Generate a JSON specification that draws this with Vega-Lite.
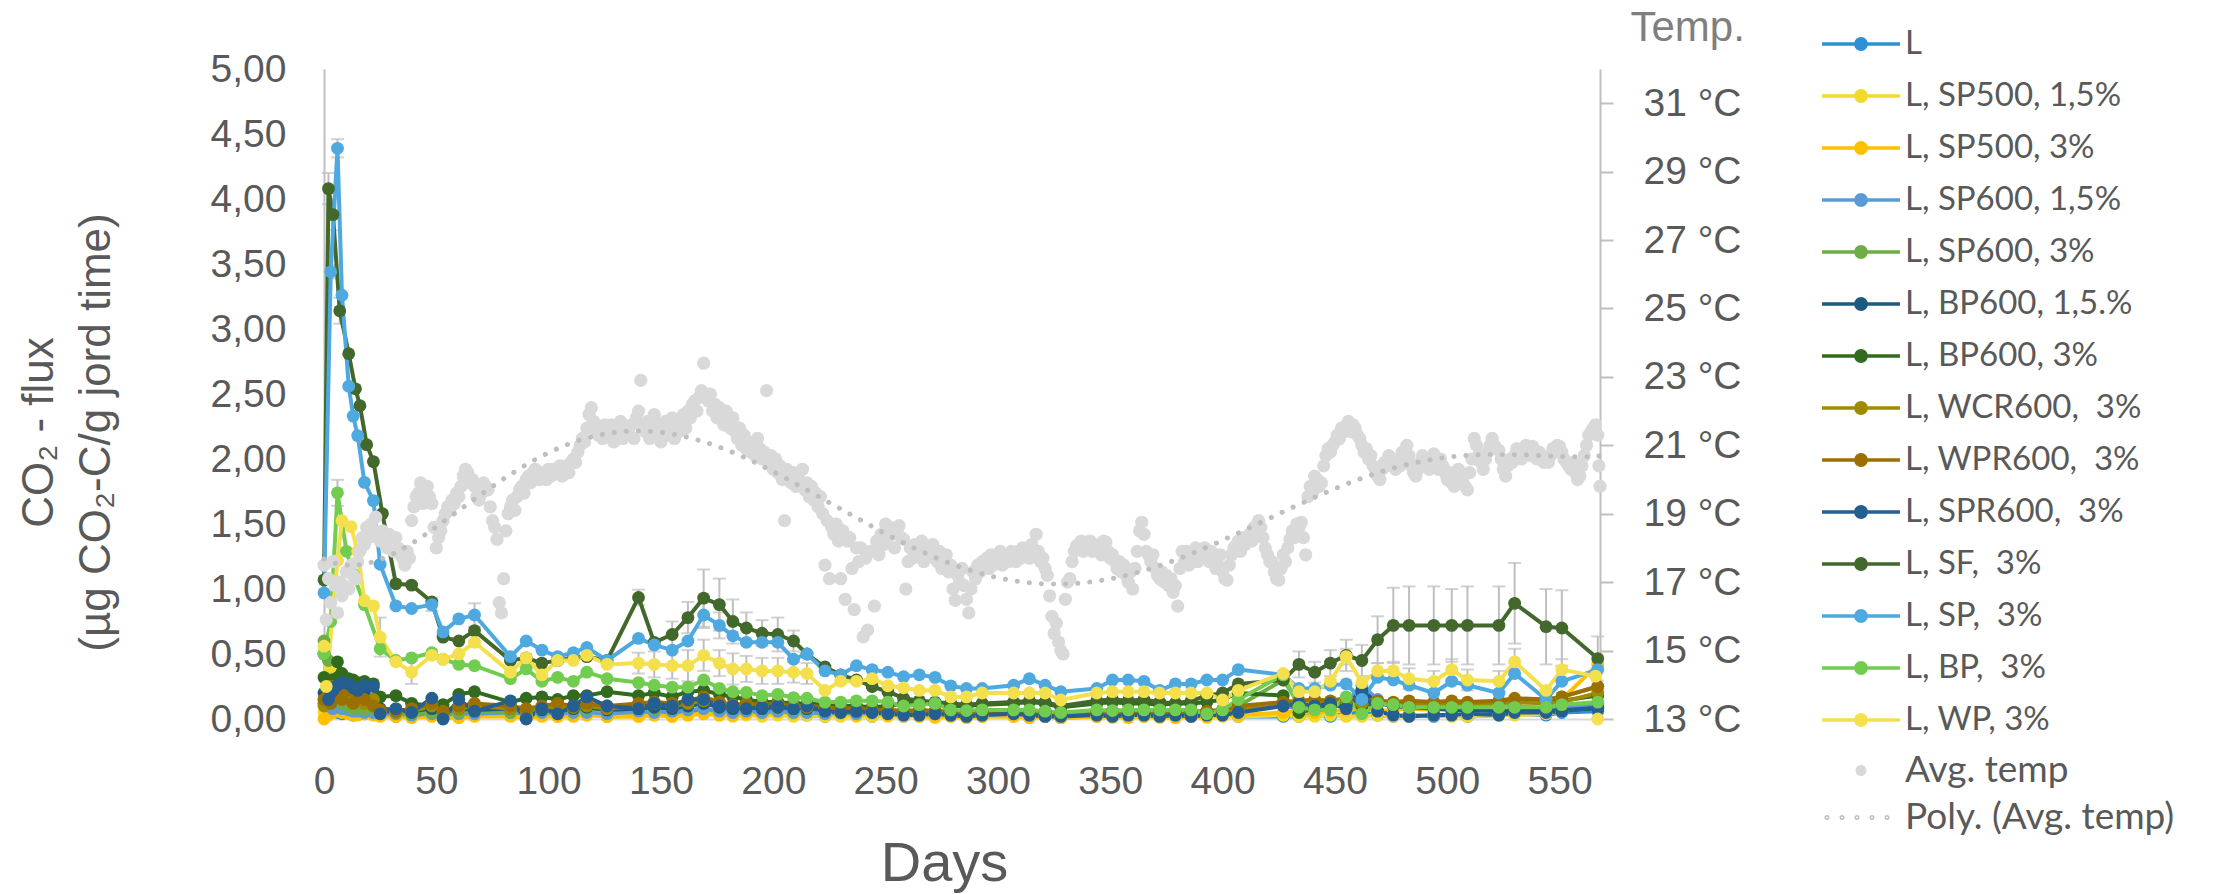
{
"$schema":"https://vega.github.io/schema/vega-lite/v6.json",
"width":1276,"height":650,"autosize":"none",
"padding":{"left":324,"top":69,"right":618,"bottom":175},
"background":"white",
"datasets":{
"names":[{"k":"L","name":"L"},{"k":"Y1","name":"L, SP500, 1,5%"},{"k":"Y3","name":"L, SP500, 3%"},{"k":"B15","name":"L, SP600, 1,5%"},{"k":"G3","name":"L, SP600, 3%"},{"k":"DB15","name":"L, BP600, 1,5.%"},{"k":"DG3","name":"L, BP600, 3%"},{"k":"OL","name":"L, WCR600, \u00a03%"},{"k":"BR","name":"L, WPR600, \u00a03%"},{"k":"DB","name":"L, SPR600, \u00a03%"},{"k":"SF","name":"L, SF, \u00a03%"},{"k":"SP","name":"L, SP, \u00a03%"},{"k":"BP","name":"L, BP, \u00a03%"},{"k":"WP","name":"L, WP, 3%"}],
"flux":[
{"k":"L","d":0,"v":0.12},{"k":"L","d":2,"v":0.05},{"k":"L","d":3,"v":0.2},{"k":"L","d":4,"v":0.08},{"k":"L","d":6,"v":0.05},{"k":"L","d":8,"v":0.04},{"k":"L","d":11,"v":0.06},{"k":"L","d":13,"v":0.03},{"k":"L","d":15,"v":0.05},{"k":"L","d":18,"v":0.04},{"k":"L","d":22,"v":0.06},{"k":"L","d":25,"v":0.03},{"k":"L","d":32,"v":0.02},{"k":"L","d":39,"v":0.03},{"k":"L","d":48,"v":0.04},{"k":"L","d":53,"v":0.02},{"k":"L","d":60,"v":0.03},{"k":"L","d":67,"v":0.04},{"k":"L","d":83,"v":0.05},{"k":"L","d":90,"v":0.04},{"k":"L","d":97,"v":0.03},{"k":"L","d":104,"v":0.04},{"k":"L","d":111,"v":0.03},{"k":"L","d":117,"v":0.04},{"k":"L","d":126,"v":0.02},{"k":"L","d":140,"v":0.03},{"k":"L","d":147,"v":0.04},{"k":"L","d":155,"v":0.03},{"k":"L","d":162,"v":0.05},{"k":"L","d":169,"v":0.06},{"k":"L","d":176,"v":0.04},{"k":"L","d":182,"v":0.03},{"k":"L","d":188,"v":0.04},{"k":"L","d":195,"v":0.03},{"k":"L","d":202,"v":0.04},{"k":"L","d":209,"v":0.03},{"k":"L","d":215,"v":0.03},{"k":"L","d":223,"v":0.02},{"k":"L","d":230,"v":0.03},{"k":"L","d":237,"v":0.03},{"k":"L","d":244,"v":0.02},{"k":"L","d":251,"v":0.03},{"k":"L","d":258,"v":0.02},{"k":"L","d":265,"v":0.03},{"k":"L","d":272,"v":0.02},{"k":"L","d":279,"v":0.03},{"k":"L","d":286,"v":0.02},{"k":"L","d":293,"v":0.02},{"k":"L","d":307,"v":0.03},{"k":"L","d":314,"v":0.02},{"k":"L","d":321,"v":0.02},{"k":"L","d":328,"v":0.01},{"k":"L","d":344,"v":0.02},{"k":"L","d":351,"v":0.03},{"k":"L","d":358,"v":0.02},{"k":"L","d":365,"v":0.02},{"k":"L","d":372,"v":0.02},{"k":"L","d":379,"v":0.03},{"k":"L","d":386,"v":0.02},{"k":"L","d":393,"v":0.02},{"k":"L","d":400,"v":0.03},{"k":"L","d":407,"v":0.02},{"k":"L","d":427,"v":0.02},{"k":"L","d":434,"v":0.02},{"k":"L","d":441,"v":0.03},{"k":"L","d":448,"v":0.02},{"k":"L","d":455,"v":0.04},{"k":"L","d":462,"v":0.05},{"k":"L","d":469,"v":0.03},{"k":"L","d":476,"v":0.02},{"k":"L","d":483,"v":0.03},{"k":"L","d":494,"v":0.02},{"k":"L","d":502,"v":0.03},{"k":"L","d":509,"v":0.02},{"k":"L","d":523,"v":0.03},{"k":"L","d":530,"v":0.04},{"k":"L","d":544,"v":0.03},{"k":"L","d":551,"v":0.05},{"k":"L","d":567,"v":0.06},
{"k":"Y1","d":0,"v":0.05},{"k":"Y1","d":2,"v":0.1},{"k":"Y1","d":3,"v":0.4},{"k":"Y1","d":4,"v":0.15},{"k":"Y1","d":6,"v":0.12},{"k":"Y1","d":8,"v":0.08},{"k":"Y1","d":11,"v":0.06},{"k":"Y1","d":13,"v":0.05},{"k":"Y1","d":15,"v":0.04},{"k":"Y1","d":18,"v":0.05},{"k":"Y1","d":22,"v":0.04},{"k":"Y1","d":25,"v":0.03},{"k":"Y1","d":32,"v":0.02},{"k":"Y1","d":39,"v":0.02},{"k":"Y1","d":48,"v":0.03},{"k":"Y1","d":53,"v":0.02},{"k":"Y1","d":60,"v":0.02},{"k":"Y1","d":67,"v":0.03},{"k":"Y1","d":83,"v":0.03},{"k":"Y1","d":90,"v":0.02},{"k":"Y1","d":97,"v":0.03},{"k":"Y1","d":104,"v":0.02},{"k":"Y1","d":111,"v":0.03},{"k":"Y1","d":117,"v":0.03},{"k":"Y1","d":126,"v":0.02},{"k":"Y1","d":140,"v":0.02},{"k":"Y1","d":147,"v":0.03},{"k":"Y1","d":155,"v":0.02},{"k":"Y1","d":162,"v":0.03},{"k":"Y1","d":169,"v":0.04},{"k":"Y1","d":176,"v":0.03},{"k":"Y1","d":182,"v":0.02},{"k":"Y1","d":188,"v":0.03},{"k":"Y1","d":195,"v":0.02},{"k":"Y1","d":202,"v":0.03},{"k":"Y1","d":209,"v":0.02},{"k":"Y1","d":215,"v":0.03},{"k":"Y1","d":223,"v":0.02},{"k":"Y1","d":230,"v":0.02},{"k":"Y1","d":237,"v":0.02},{"k":"Y1","d":244,"v":0.02},{"k":"Y1","d":251,"v":0.02},{"k":"Y1","d":258,"v":0.02},{"k":"Y1","d":265,"v":0.02},{"k":"Y1","d":272,"v":0.01},{"k":"Y1","d":279,"v":0.02},{"k":"Y1","d":286,"v":0.02},{"k":"Y1","d":293,"v":0.02},{"k":"Y1","d":307,"v":0.02},{"k":"Y1","d":314,"v":0.01},{"k":"Y1","d":321,"v":0.02},{"k":"Y1","d":328,"v":0.01},{"k":"Y1","d":344,"v":0.02},{"k":"Y1","d":351,"v":0.01},{"k":"Y1","d":358,"v":0.02},{"k":"Y1","d":365,"v":0.02},{"k":"Y1","d":372,"v":0.01},{"k":"Y1","d":379,"v":0.02},{"k":"Y1","d":386,"v":0.02},{"k":"Y1","d":393,"v":0.01},{"k":"Y1","d":400,"v":0.02},{"k":"Y1","d":407,"v":0.02},{"k":"Y1","d":427,"v":0.03},{"k":"Y1","d":434,"v":0.02},{"k":"Y1","d":441,"v":0.02},{"k":"Y1","d":448,"v":0.03},{"k":"Y1","d":455,"v":0.02},{"k":"Y1","d":462,"v":0.02},{"k":"Y1","d":469,"v":0.03},{"k":"Y1","d":476,"v":0.02},{"k":"Y1","d":483,"v":0.02},{"k":"Y1","d":494,"v":0.03},{"k":"Y1","d":502,"v":0.02},{"k":"Y1","d":509,"v":0.02},{"k":"Y1","d":523,"v":0.03},{"k":"Y1","d":530,"v":0.03},{"k":"Y1","d":544,"v":0.04},{"k":"Y1","d":551,"v":0.06},{"k":"Y1","d":567,"v":0.1},
{"k":"Y3","d":0,"v":0.0},{"k":"Y3","d":2,"v":0.03},{"k":"Y3","d":3,"v":0.08},{"k":"Y3","d":4,"v":0.05},{"k":"Y3","d":6,"v":0.06},{"k":"Y3","d":8,"v":0.05},{"k":"Y3","d":11,"v":0.04},{"k":"Y3","d":13,"v":0.03},{"k":"Y3","d":15,"v":0.03},{"k":"Y3","d":18,"v":0.04},{"k":"Y3","d":22,"v":0.03},{"k":"Y3","d":25,"v":0.02},{"k":"Y3","d":32,"v":0.02},{"k":"Y3","d":39,"v":0.01},{"k":"Y3","d":48,"v":0.02},{"k":"Y3","d":53,"v":0.01},{"k":"Y3","d":60,"v":0.01},{"k":"Y3","d":67,"v":0.02},{"k":"Y3","d":83,"v":0.02},{"k":"Y3","d":90,"v":0.01},{"k":"Y3","d":97,"v":0.02},{"k":"Y3","d":104,"v":0.02},{"k":"Y3","d":111,"v":0.02},{"k":"Y3","d":117,"v":0.03},{"k":"Y3","d":126,"v":0.02},{"k":"Y3","d":140,"v":0.02},{"k":"Y3","d":147,"v":0.03},{"k":"Y3","d":155,"v":0.02},{"k":"Y3","d":162,"v":0.03},{"k":"Y3","d":169,"v":0.04},{"k":"Y3","d":176,"v":0.03},{"k":"Y3","d":182,"v":0.03},{"k":"Y3","d":188,"v":0.04},{"k":"Y3","d":195,"v":0.04},{"k":"Y3","d":202,"v":0.05},{"k":"Y3","d":209,"v":0.04},{"k":"Y3","d":215,"v":0.05},{"k":"Y3","d":223,"v":0.04},{"k":"Y3","d":230,"v":0.04},{"k":"Y3","d":237,"v":0.03},{"k":"Y3","d":244,"v":0.04},{"k":"Y3","d":251,"v":0.03},{"k":"Y3","d":258,"v":0.03},{"k":"Y3","d":265,"v":0.02},{"k":"Y3","d":272,"v":0.02},{"k":"Y3","d":279,"v":0.02},{"k":"Y3","d":286,"v":0.01},{"k":"Y3","d":293,"v":0.02},{"k":"Y3","d":307,"v":0.02},{"k":"Y3","d":314,"v":0.01},{"k":"Y3","d":321,"v":0.02},{"k":"Y3","d":328,"v":0.01},{"k":"Y3","d":344,"v":0.02},{"k":"Y3","d":351,"v":0.02},{"k":"Y3","d":358,"v":0.01},{"k":"Y3","d":365,"v":0.02},{"k":"Y3","d":372,"v":0.02},{"k":"Y3","d":379,"v":0.01},{"k":"Y3","d":386,"v":0.02},{"k":"Y3","d":393,"v":0.02},{"k":"Y3","d":400,"v":0.03},{"k":"Y3","d":407,"v":0.03},{"k":"Y3","d":427,"v":0.05},{"k":"Y3","d":434,"v":0.06},{"k":"Y3","d":441,"v":0.05},{"k":"Y3","d":448,"v":0.06},{"k":"Y3","d":455,"v":0.07},{"k":"Y3","d":462,"v":0.08},{"k":"Y3","d":469,"v":0.06},{"k":"Y3","d":476,"v":0.07},{"k":"Y3","d":483,"v":0.08},{"k":"Y3","d":494,"v":0.07},{"k":"Y3","d":502,"v":0.08},{"k":"Y3","d":509,"v":0.09},{"k":"Y3","d":523,"v":0.1},{"k":"Y3","d":530,"v":0.12},{"k":"Y3","d":544,"v":0.14},{"k":"Y3","d":551,"v":0.15},{"k":"Y3","d":567,"v":0.42},
{"k":"B15","d":0,"v":0.15},{"k":"B15","d":2,"v":0.1},{"k":"B15","d":3,"v":0.12},{"k":"B15","d":4,"v":0.08},{"k":"B15","d":6,"v":0.1},{"k":"B15","d":8,"v":0.08},{"k":"B15","d":11,"v":0.07},{"k":"B15","d":13,"v":0.06},{"k":"B15","d":15,"v":0.06},{"k":"B15","d":18,"v":0.05},{"k":"B15","d":22,"v":0.05},{"k":"B15","d":25,"v":0.04},{"k":"B15","d":32,"v":0.04},{"k":"B15","d":39,"v":0.03},{"k":"B15","d":48,"v":0.04},{"k":"B15","d":53,"v":0.03},{"k":"B15","d":60,"v":0.04},{"k":"B15","d":67,"v":0.04},{"k":"B15","d":83,"v":0.05},{"k":"B15","d":90,"v":0.04},{"k":"B15","d":97,"v":0.05},{"k":"B15","d":104,"v":0.04},{"k":"B15","d":111,"v":0.05},{"k":"B15","d":117,"v":0.05},{"k":"B15","d":126,"v":0.04},{"k":"B15","d":140,"v":0.06},{"k":"B15","d":147,"v":0.05},{"k":"B15","d":155,"v":0.06},{"k":"B15","d":162,"v":0.07},{"k":"B15","d":169,"v":0.08},{"k":"B15","d":176,"v":0.06},{"k":"B15","d":182,"v":0.05},{"k":"B15","d":188,"v":0.06},{"k":"B15","d":195,"v":0.05},{"k":"B15","d":202,"v":0.06},{"k":"B15","d":209,"v":0.05},{"k":"B15","d":215,"v":0.05},{"k":"B15","d":223,"v":0.04},{"k":"B15","d":230,"v":0.05},{"k":"B15","d":237,"v":0.04},{"k":"B15","d":244,"v":0.05},{"k":"B15","d":251,"v":0.04},{"k":"B15","d":258,"v":0.05},{"k":"B15","d":265,"v":0.04},{"k":"B15","d":272,"v":0.04},{"k":"B15","d":279,"v":0.03},{"k":"B15","d":286,"v":0.04},{"k":"B15","d":293,"v":0.03},{"k":"B15","d":307,"v":0.04},{"k":"B15","d":314,"v":0.03},{"k":"B15","d":321,"v":0.04},{"k":"B15","d":328,"v":0.03},{"k":"B15","d":344,"v":0.04},{"k":"B15","d":351,"v":0.04},{"k":"B15","d":358,"v":0.03},{"k":"B15","d":365,"v":0.04},{"k":"B15","d":372,"v":0.04},{"k":"B15","d":379,"v":0.03},{"k":"B15","d":386,"v":0.04},{"k":"B15","d":393,"v":0.04},{"k":"B15","d":400,"v":0.05},{"k":"B15","d":407,"v":0.06},{"k":"B15","d":427,"v":0.1},{"k":"B15","d":434,"v":0.08},{"k":"B15","d":441,"v":0.09},{"k":"B15","d":448,"v":0.1},{"k":"B15","d":455,"v":0.12},{"k":"B15","d":462,"v":0.26},{"k":"B15","d":469,"v":0.15},{"k":"B15","d":476,"v":0.12},{"k":"B15","d":483,"v":0.1},{"k":"B15","d":494,"v":0.08},{"k":"B15","d":502,"v":0.09},{"k":"B15","d":509,"v":0.08},{"k":"B15","d":523,"v":0.08},{"k":"B15","d":530,"v":0.1},{"k":"B15","d":544,"v":0.08},{"k":"B15","d":551,"v":0.09},{"k":"B15","d":567,"v":0.12},
{"k":"G3","d":0,"v":0.6},{"k":"G3","d":2,"v":0.45},{"k":"G3","d":3,"v":0.3},{"k":"G3","d":4,"v":0.2},{"k":"G3","d":6,"v":0.15},{"k":"G3","d":8,"v":0.12},{"k":"G3","d":11,"v":0.1},{"k":"G3","d":13,"v":0.08},{"k":"G3","d":15,"v":0.09},{"k":"G3","d":18,"v":0.07},{"k":"G3","d":22,"v":0.08},{"k":"G3","d":25,"v":0.06},{"k":"G3","d":32,"v":0.05},{"k":"G3","d":39,"v":0.04},{"k":"G3","d":48,"v":0.05},{"k":"G3","d":53,"v":0.04},{"k":"G3","d":60,"v":0.05},{"k":"G3","d":67,"v":0.06},{"k":"G3","d":83,"v":0.05},{"k":"G3","d":90,"v":0.06},{"k":"G3","d":97,"v":0.07},{"k":"G3","d":104,"v":0.06},{"k":"G3","d":111,"v":0.07},{"k":"G3","d":117,"v":0.08},{"k":"G3","d":126,"v":0.07},{"k":"G3","d":140,"v":0.09},{"k":"G3","d":147,"v":0.08},{"k":"G3","d":155,"v":0.09},{"k":"G3","d":162,"v":0.1},{"k":"G3","d":169,"v":0.12},{"k":"G3","d":176,"v":0.1},{"k":"G3","d":182,"v":0.09},{"k":"G3","d":188,"v":0.1},{"k":"G3","d":195,"v":0.09},{"k":"G3","d":202,"v":0.1},{"k":"G3","d":209,"v":0.08},{"k":"G3","d":215,"v":0.09},{"k":"G3","d":223,"v":0.08},{"k":"G3","d":230,"v":0.07},{"k":"G3","d":237,"v":0.08},{"k":"G3","d":244,"v":0.07},{"k":"G3","d":251,"v":0.07},{"k":"G3","d":258,"v":0.06},{"k":"G3","d":265,"v":0.07},{"k":"G3","d":272,"v":0.06},{"k":"G3","d":279,"v":0.06},{"k":"G3","d":286,"v":0.05},{"k":"G3","d":293,"v":0.06},{"k":"G3","d":307,"v":0.05},{"k":"G3","d":314,"v":0.06},{"k":"G3","d":321,"v":0.05},{"k":"G3","d":328,"v":0.04},{"k":"G3","d":344,"v":0.05},{"k":"G3","d":351,"v":0.06},{"k":"G3","d":358,"v":0.05},{"k":"G3","d":365,"v":0.06},{"k":"G3","d":372,"v":0.05},{"k":"G3","d":379,"v":0.06},{"k":"G3","d":386,"v":0.05},{"k":"G3","d":393,"v":0.06},{"k":"G3","d":400,"v":0.07},{"k":"G3","d":407,"v":0.1},{"k":"G3","d":427,"v":0.3},{"k":"G3","d":434,"v":0.12},{"k":"G3","d":441,"v":0.1},{"k":"G3","d":448,"v":0.11},{"k":"G3","d":455,"v":0.13},{"k":"G3","d":462,"v":0.1},{"k":"G3","d":469,"v":0.12},{"k":"G3","d":476,"v":0.11},{"k":"G3","d":483,"v":0.1},{"k":"G3","d":494,"v":0.11},{"k":"G3","d":502,"v":0.12},{"k":"G3","d":509,"v":0.11},{"k":"G3","d":523,"v":0.12},{"k":"G3","d":530,"v":0.14},{"k":"G3","d":544,"v":0.15},{"k":"G3","d":551,"v":0.17},{"k":"G3","d":567,"v":0.25},
{"k":"DB15","d":0,"v":0.2},{"k":"DB15","d":2,"v":0.15},{"k":"DB15","d":3,"v":0.25},{"k":"DB15","d":4,"v":0.2},{"k":"DB15","d":6,"v":0.22},{"k":"DB15","d":8,"v":0.2},{"k":"DB15","d":11,"v":0.18},{"k":"DB15","d":13,"v":0.2},{"k":"DB15","d":15,"v":0.17},{"k":"DB15","d":18,"v":0.19},{"k":"DB15","d":22,"v":0.15},{"k":"DB15","d":25,"v":0.08},{"k":"DB15","d":32,"v":0.07},{"k":"DB15","d":39,"v":0.06},{"k":"DB15","d":48,"v":0.08},{"k":"DB15","d":53,"v":0.05},{"k":"DB15","d":60,"v":0.08},{"k":"DB15","d":67,"v":0.07},{"k":"DB15","d":83,"v":0.08},{"k":"DB15","d":90,"v":0.06},{"k":"DB15","d":97,"v":0.07},{"k":"DB15","d":104,"v":0.06},{"k":"DB15","d":111,"v":0.08},{"k":"DB15","d":117,"v":0.09},{"k":"DB15","d":126,"v":0.07},{"k":"DB15","d":140,"v":0.08},{"k":"DB15","d":147,"v":0.09},{"k":"DB15","d":155,"v":0.08},{"k":"DB15","d":162,"v":0.1},{"k":"DB15","d":169,"v":0.12},{"k":"DB15","d":176,"v":0.09},{"k":"DB15","d":182,"v":0.08},{"k":"DB15","d":188,"v":0.09},{"k":"DB15","d":195,"v":0.08},{"k":"DB15","d":202,"v":0.09},{"k":"DB15","d":209,"v":0.08},{"k":"DB15","d":215,"v":0.08},{"k":"DB15","d":223,"v":0.07},{"k":"DB15","d":230,"v":0.07},{"k":"DB15","d":237,"v":0.06},{"k":"DB15","d":244,"v":0.07},{"k":"DB15","d":251,"v":0.06},{"k":"DB15","d":258,"v":0.06},{"k":"DB15","d":265,"v":0.05},{"k":"DB15","d":272,"v":0.06},{"k":"DB15","d":279,"v":0.05},{"k":"DB15","d":286,"v":0.05},{"k":"DB15","d":293,"v":0.06},{"k":"DB15","d":307,"v":0.05},{"k":"DB15","d":314,"v":0.05},{"k":"DB15","d":321,"v":0.06},{"k":"DB15","d":328,"v":0.04},{"k":"DB15","d":344,"v":0.05},{"k":"DB15","d":351,"v":0.06},{"k":"DB15","d":358,"v":0.05},{"k":"DB15","d":365,"v":0.05},{"k":"DB15","d":372,"v":0.06},{"k":"DB15","d":379,"v":0.05},{"k":"DB15","d":386,"v":0.05},{"k":"DB15","d":393,"v":0.06},{"k":"DB15","d":400,"v":0.06},{"k":"DB15","d":407,"v":0.08},{"k":"DB15","d":427,"v":0.12},{"k":"DB15","d":434,"v":0.1},{"k":"DB15","d":441,"v":0.11},{"k":"DB15","d":448,"v":0.12},{"k":"DB15","d":455,"v":0.1},{"k":"DB15","d":462,"v":0.22},{"k":"DB15","d":469,"v":0.12},{"k":"DB15","d":476,"v":0.1},{"k":"DB15","d":483,"v":0.09},{"k":"DB15","d":494,"v":0.08},{"k":"DB15","d":502,"v":0.07},{"k":"DB15","d":509,"v":0.07},{"k":"DB15","d":523,"v":0.06},{"k":"DB15","d":530,"v":0.07},{"k":"DB15","d":544,"v":0.06},{"k":"DB15","d":551,"v":0.07},{"k":"DB15","d":567,"v":0.08},
{"k":"DG3","d":0,"v":0.32},{"k":"DG3","d":2,"v":0.28},{"k":"DG3","d":3,"v":0.2},{"k":"DG3","d":4,"v":0.3},{"k":"DG3","d":6,"v":0.44},{"k":"DG3","d":8,"v":0.35},{"k":"DG3","d":11,"v":0.31},{"k":"DG3","d":13,"v":0.3},{"k":"DG3","d":15,"v":0.28},{"k":"DG3","d":18,"v":0.29},{"k":"DG3","d":22,"v":0.27},{"k":"DG3","d":25,"v":0.17},{"k":"DG3","d":32,"v":0.18},{"k":"DG3","d":39,"v":0.12},{"k":"DG3","d":48,"v":0.1},{"k":"DG3","d":53,"v":0.11},{"k":"DG3","d":60,"v":0.19},{"k":"DG3","d":67,"v":0.21},{"k":"DG3","d":83,"v":0.13},{"k":"DG3","d":90,"v":0.16},{"k":"DG3","d":97,"v":0.17},{"k":"DG3","d":104,"v":0.15},{"k":"DG3","d":111,"v":0.18},{"k":"DG3","d":117,"v":0.18},{"k":"DG3","d":126,"v":0.21},{"k":"DG3","d":140,"v":0.18},{"k":"DG3","d":147,"v":0.2},{"k":"DG3","d":155,"v":0.17},{"k":"DG3","d":162,"v":0.21},{"k":"DG3","d":169,"v":0.22},{"k":"DG3","d":176,"v":0.19},{"k":"DG3","d":182,"v":0.17},{"k":"DG3","d":188,"v":0.15},{"k":"DG3","d":195,"v":0.13},{"k":"DG3","d":202,"v":0.13},{"k":"DG3","d":209,"v":0.12},{"k":"DG3","d":215,"v":0.12},{"k":"DG3","d":223,"v":0.11},{"k":"DG3","d":230,"v":0.1},{"k":"DG3","d":237,"v":0.1},{"k":"DG3","d":244,"v":0.09},{"k":"DG3","d":251,"v":0.1},{"k":"DG3","d":258,"v":0.12},{"k":"DG3","d":265,"v":0.13},{"k":"DG3","d":272,"v":0.12},{"k":"DG3","d":279,"v":0.1},{"k":"DG3","d":286,"v":0.1},{"k":"DG3","d":293,"v":0.11},{"k":"DG3","d":307,"v":0.12},{"k":"DG3","d":314,"v":0.13},{"k":"DG3","d":321,"v":0.12},{"k":"DG3","d":328,"v":0.09},{"k":"DG3","d":344,"v":0.12},{"k":"DG3","d":351,"v":0.13},{"k":"DG3","d":358,"v":0.12},{"k":"DG3","d":365,"v":0.12},{"k":"DG3","d":372,"v":0.11},{"k":"DG3","d":379,"v":0.12},{"k":"DG3","d":386,"v":0.12},{"k":"DG3","d":393,"v":0.13},{"k":"DG3","d":400,"v":0.15},{"k":"DG3","d":407,"v":0.2},{"k":"DG3","d":427,"v":0.18},{"k":"DG3","d":434,"v":0.05},{"k":"DG3","d":441,"v":0.08},{"k":"DG3","d":448,"v":0.1},{"k":"DG3","d":455,"v":0.12},{"k":"DG3","d":462,"v":0.1},{"k":"DG3","d":469,"v":0.13},{"k":"DG3","d":476,"v":0.12},{"k":"DG3","d":483,"v":0.12},{"k":"DG3","d":494,"v":0.11},{"k":"DG3","d":502,"v":0.12},{"k":"DG3","d":509,"v":0.12},{"k":"DG3","d":523,"v":0.13},{"k":"DG3","d":530,"v":0.14},{"k":"DG3","d":544,"v":0.15},{"k":"DG3","d":551,"v":0.14},{"k":"DG3","d":567,"v":0.18},
{"k":"OL","d":0,"v":0.1},{"k":"OL","d":2,"v":0.25},{"k":"OL","d":3,"v":0.15},{"k":"OL","d":4,"v":0.2},{"k":"OL","d":6,"v":0.18},{"k":"OL","d":8,"v":0.22},{"k":"OL","d":11,"v":0.15},{"k":"OL","d":13,"v":0.2},{"k":"OL","d":15,"v":0.18},{"k":"OL","d":18,"v":0.12},{"k":"OL","d":22,"v":0.15},{"k":"OL","d":25,"v":0.06},{"k":"OL","d":32,"v":0.05},{"k":"OL","d":39,"v":0.06},{"k":"OL","d":48,"v":0.1},{"k":"OL","d":53,"v":0.05},{"k":"OL","d":60,"v":0.08},{"k":"OL","d":67,"v":0.1},{"k":"OL","d":83,"v":0.08},{"k":"OL","d":90,"v":0.06},{"k":"OL","d":97,"v":0.08},{"k":"OL","d":104,"v":0.1},{"k":"OL","d":111,"v":0.09},{"k":"OL","d":117,"v":0.1},{"k":"OL","d":126,"v":0.08},{"k":"OL","d":140,"v":0.1},{"k":"OL","d":147,"v":0.12},{"k":"OL","d":155,"v":0.1},{"k":"OL","d":162,"v":0.12},{"k":"OL","d":169,"v":0.14},{"k":"OL","d":176,"v":0.12},{"k":"OL","d":182,"v":0.1},{"k":"OL","d":188,"v":0.11},{"k":"OL","d":195,"v":0.1},{"k":"OL","d":202,"v":0.1},{"k":"OL","d":209,"v":0.09},{"k":"OL","d":215,"v":0.09},{"k":"OL","d":223,"v":0.08},{"k":"OL","d":230,"v":0.08},{"k":"OL","d":237,"v":0.07},{"k":"OL","d":244,"v":0.07},{"k":"OL","d":251,"v":0.07},{"k":"OL","d":258,"v":0.06},{"k":"OL","d":265,"v":0.06},{"k":"OL","d":272,"v":0.05},{"k":"OL","d":279,"v":0.05},{"k":"OL","d":286,"v":0.04},{"k":"OL","d":293,"v":0.05},{"k":"OL","d":307,"v":0.05},{"k":"OL","d":314,"v":0.04},{"k":"OL","d":321,"v":0.05},{"k":"OL","d":328,"v":0.04},{"k":"OL","d":344,"v":0.05},{"k":"OL","d":351,"v":0.05},{"k":"OL","d":358,"v":0.04},{"k":"OL","d":365,"v":0.05},{"k":"OL","d":372,"v":0.05},{"k":"OL","d":379,"v":0.04},{"k":"OL","d":386,"v":0.05},{"k":"OL","d":393,"v":0.05},{"k":"OL","d":400,"v":0.06},{"k":"OL","d":407,"v":0.08},{"k":"OL","d":427,"v":0.12},{"k":"OL","d":434,"v":0.1},{"k":"OL","d":441,"v":0.12},{"k":"OL","d":448,"v":0.13},{"k":"OL","d":455,"v":0.14},{"k":"OL","d":462,"v":0.12},{"k":"OL","d":469,"v":0.13},{"k":"OL","d":476,"v":0.12},{"k":"OL","d":483,"v":0.12},{"k":"OL","d":494,"v":0.11},{"k":"OL","d":502,"v":0.12},{"k":"OL","d":509,"v":0.11},{"k":"OL","d":523,"v":0.12},{"k":"OL","d":530,"v":0.13},{"k":"OL","d":544,"v":0.12},{"k":"OL","d":551,"v":0.13},{"k":"OL","d":567,"v":0.2},
{"k":"BR","d":0,"v":0.15},{"k":"BR","d":2,"v":0.2},{"k":"BR","d":3,"v":0.12},{"k":"BR","d":4,"v":0.25},{"k":"BR","d":6,"v":0.2},{"k":"BR","d":8,"v":0.15},{"k":"BR","d":11,"v":0.22},{"k":"BR","d":13,"v":0.12},{"k":"BR","d":15,"v":0.17},{"k":"BR","d":18,"v":0.15},{"k":"BR","d":22,"v":0.1},{"k":"BR","d":25,"v":0.07},{"k":"BR","d":32,"v":0.06},{"k":"BR","d":39,"v":0.08},{"k":"BR","d":48,"v":0.12},{"k":"BR","d":53,"v":0.06},{"k":"BR","d":60,"v":0.1},{"k":"BR","d":67,"v":0.12},{"k":"BR","d":83,"v":0.1},{"k":"BR","d":90,"v":0.08},{"k":"BR","d":97,"v":0.1},{"k":"BR","d":104,"v":0.12},{"k":"BR","d":111,"v":0.1},{"k":"BR","d":117,"v":0.12},{"k":"BR","d":126,"v":0.1},{"k":"BR","d":140,"v":0.12},{"k":"BR","d":147,"v":0.13},{"k":"BR","d":155,"v":0.12},{"k":"BR","d":162,"v":0.14},{"k":"BR","d":169,"v":0.17},{"k":"BR","d":176,"v":0.13},{"k":"BR","d":182,"v":0.11},{"k":"BR","d":188,"v":0.12},{"k":"BR","d":195,"v":0.11},{"k":"BR","d":202,"v":0.12},{"k":"BR","d":209,"v":0.1},{"k":"BR","d":215,"v":0.1},{"k":"BR","d":223,"v":0.09},{"k":"BR","d":230,"v":0.08},{"k":"BR","d":237,"v":0.08},{"k":"BR","d":244,"v":0.07},{"k":"BR","d":251,"v":0.07},{"k":"BR","d":258,"v":0.06},{"k":"BR","d":265,"v":0.07},{"k":"BR","d":272,"v":0.06},{"k":"BR","d":279,"v":0.05},{"k":"BR","d":286,"v":0.05},{"k":"BR","d":293,"v":0.05},{"k":"BR","d":307,"v":0.06},{"k":"BR","d":314,"v":0.05},{"k":"BR","d":321,"v":0.05},{"k":"BR","d":328,"v":0.04},{"k":"BR","d":344,"v":0.05},{"k":"BR","d":351,"v":0.06},{"k":"BR","d":358,"v":0.05},{"k":"BR","d":365,"v":0.05},{"k":"BR","d":372,"v":0.05},{"k":"BR","d":379,"v":0.05},{"k":"BR","d":386,"v":0.06},{"k":"BR","d":393,"v":0.06},{"k":"BR","d":400,"v":0.07},{"k":"BR","d":407,"v":0.1},{"k":"BR","d":427,"v":0.13},{"k":"BR","d":434,"v":0.14},{"k":"BR","d":441,"v":0.15},{"k":"BR","d":448,"v":0.14},{"k":"BR","d":455,"v":0.16},{"k":"BR","d":462,"v":0.15},{"k":"BR","d":469,"v":0.14},{"k":"BR","d":476,"v":0.13},{"k":"BR","d":483,"v":0.14},{"k":"BR","d":494,"v":0.13},{"k":"BR","d":502,"v":0.14},{"k":"BR","d":509,"v":0.13},{"k":"BR","d":523,"v":0.14},{"k":"BR","d":530,"v":0.16},{"k":"BR","d":544,"v":0.15},{"k":"BR","d":551,"v":0.17},{"k":"BR","d":567,"v":0.25},
{"k":"DB","d":0,"v":0.5},{"k":"DB","d":2,"v":0.15},{"k":"DB","d":3,"v":0.2},{"k":"DB","d":4,"v":0.22},{"k":"DB","d":6,"v":0.26},{"k":"DB","d":8,"v":0.28},{"k":"DB","d":11,"v":0.27},{"k":"DB","d":13,"v":0.24},{"k":"DB","d":15,"v":0.22},{"k":"DB","d":18,"v":0.26},{"k":"DB","d":22,"v":0.25},{"k":"DB","d":25,"v":0.04},{"k":"DB","d":32,"v":0.08},{"k":"DB","d":39,"v":0.05},{"k":"DB","d":48,"v":0.16},{"k":"DB","d":53,"v":0.0},{"k":"DB","d":60,"v":0.15},{"k":"DB","d":67,"v":0.06},{"k":"DB","d":83,"v":0.14},{"k":"DB","d":90,"v":0.0},{"k":"DB","d":97,"v":0.08},{"k":"DB","d":104,"v":0.04},{"k":"DB","d":111,"v":0.1},{"k":"DB","d":117,"v":0.17},{"k":"DB","d":126,"v":0.1},{"k":"DB","d":140,"v":0.08},{"k":"DB","d":147,"v":0.12},{"k":"DB","d":155,"v":0.1},{"k":"DB","d":162,"v":0.15},{"k":"DB","d":169,"v":0.15},{"k":"DB","d":176,"v":0.1},{"k":"DB","d":182,"v":0.1},{"k":"DB","d":188,"v":0.08},{"k":"DB","d":195,"v":0.09},{"k":"DB","d":202,"v":0.1},{"k":"DB","d":209,"v":0.08},{"k":"DB","d":215,"v":0.1},{"k":"DB","d":223,"v":0.06},{"k":"DB","d":230,"v":0.05},{"k":"DB","d":237,"v":0.06},{"k":"DB","d":244,"v":0.05},{"k":"DB","d":251,"v":0.04},{"k":"DB","d":258,"v":0.03},{"k":"DB","d":265,"v":0.03},{"k":"DB","d":272,"v":0.04},{"k":"DB","d":279,"v":0.03},{"k":"DB","d":286,"v":0.02},{"k":"DB","d":293,"v":0.03},{"k":"DB","d":307,"v":0.04},{"k":"DB","d":314,"v":0.03},{"k":"DB","d":321,"v":0.02},{"k":"DB","d":328,"v":0.02},{"k":"DB","d":344,"v":0.03},{"k":"DB","d":351,"v":0.02},{"k":"DB","d":358,"v":0.03},{"k":"DB","d":365,"v":0.03},{"k":"DB","d":372,"v":0.02},{"k":"DB","d":379,"v":0.03},{"k":"DB","d":386,"v":0.02},{"k":"DB","d":393,"v":0.03},{"k":"DB","d":400,"v":0.03},{"k":"DB","d":407,"v":0.05},{"k":"DB","d":427,"v":0.1},{"k":"DB","d":434,"v":0.12},{"k":"DB","d":441,"v":0.1},{"k":"DB","d":448,"v":0.12},{"k":"DB","d":455,"v":0.08},{"k":"DB","d":462,"v":0.2},{"k":"DB","d":469,"v":0.06},{"k":"DB","d":476,"v":0.03},{"k":"DB","d":483,"v":0.02},{"k":"DB","d":494,"v":0.03},{"k":"DB","d":502,"v":0.03},{"k":"DB","d":509,"v":0.04},{"k":"DB","d":523,"v":0.03},{"k":"DB","d":530,"v":0.05},{"k":"DB","d":544,"v":0.05},{"k":"DB","d":551,"v":0.06},{"k":"DB","d":567,"v":0.09},
{"k":"SF","d":0,"v":1.07},{"k":"SF","d":2,"v":4.08,"e":0.12},{"k":"SF","d":4,"v":3.88,"e":0.12},{"k":"SF","d":7,"v":3.14,"e":0.1},{"k":"SF","d":11,"v":2.81},{"k":"SF","d":14,"v":2.54},{"k":"SF","d":16,"v":2.41},{"k":"SF","d":19,"v":2.11},{"k":"SF","d":22,"v":1.98},{"k":"SF","d":26,"v":1.58},{"k":"SF","d":32,"v":1.04},{"k":"SF","d":39,"v":1.03},{"k":"SF","d":48,"v":0.9},{"k":"SF","d":53,"v":0.63},{"k":"SF","d":60,"v":0.6},{"k":"SF","d":67,"v":0.68},{"k":"SF","d":83,"v":0.45},{"k":"SF","d":90,"v":0.47},{"k":"SF","d":97,"v":0.43},{"k":"SF","d":104,"v":0.45},{"k":"SF","d":111,"v":0.47},{"k":"SF","d":117,"v":0.48},{"k":"SF","d":126,"v":0.45},{"k":"SF","d":140,"v":0.935,"e":0.06},{"k":"SF","d":147,"v":0.59},{"k":"SF","d":155,"v":0.65,"e":0.1},{"k":"SF","d":162,"v":0.78,"e":0.12},{"k":"SF","d":169,"v":0.93,"e":0.22},{"k":"SF","d":176,"v":0.88,"e":0.2},{"k":"SF","d":182,"v":0.75,"e":0.17},{"k":"SF","d":188,"v":0.7,"e":0.12},{"k":"SF","d":195,"v":0.66,"e":0.1},{"k":"SF","d":202,"v":0.65,"e":0.13},{"k":"SF","d":209,"v":0.6,"e":0.08},{"k":"SF","d":215,"v":0.5},{"k":"SF","d":223,"v":0.4},{"k":"SF","d":230,"v":0.34},{"k":"SF","d":237,"v":0.3},{"k":"SF","d":244,"v":0.25},{"k":"SF","d":251,"v":0.21},{"k":"SF","d":258,"v":0.16},{"k":"SF","d":265,"v":0.14},{"k":"SF","d":272,"v":0.13},{"k":"SF","d":279,"v":0.12},{"k":"SF","d":286,"v":0.11},{"k":"SF","d":293,"v":0.12},{"k":"SF","d":307,"v":0.13},{"k":"SF","d":314,"v":0.14},{"k":"SF","d":321,"v":0.13},{"k":"SF","d":328,"v":0.1},{"k":"SF","d":344,"v":0.14},{"k":"SF","d":351,"v":0.15},{"k":"SF","d":358,"v":0.14},{"k":"SF","d":365,"v":0.15},{"k":"SF","d":372,"v":0.13},{"k":"SF","d":379,"v":0.12},{"k":"SF","d":386,"v":0.14},{"k":"SF","d":393,"v":0.18},{"k":"SF","d":400,"v":0.2},{"k":"SF","d":407,"v":0.27},{"k":"SF","d":427,"v":0.3},{"k":"SF","d":434,"v":0.42,"e":0.1},{"k":"SF","d":441,"v":0.36,"e":0.08},{"k":"SF","d":448,"v":0.43,"e":0.1},{"k":"SF","d":455,"v":0.49,"e":0.12},{"k":"SF","d":462,"v":0.45,"e":0.12},{"k":"SF","d":469,"v":0.61,"e":0.18},{"k":"SF","d":476,"v":0.72,"e":0.29},{"k":"SF","d":483,"v":0.72,"e":0.3},{"k":"SF","d":494,"v":0.72,"e":0.3},{"k":"SF","d":502,"v":0.72,"e":0.28},{"k":"SF","d":509,"v":0.72,"e":0.3},{"k":"SF","d":523,"v":0.72,"e":0.3},{"k":"SF","d":530,"v":0.89,"e":0.31},{"k":"SF","d":544,"v":0.71,"e":0.29},{"k":"SF","d":551,"v":0.7,"e":0.29},{"k":"SF","d":567,"v":0.465,"e":0.17},
{"k":"SP","d":0,"v":0.97},{"k":"SP","d":3,"v":3.44,"e":0.05},{"k":"SP","d":6,"v":4.39,"e":0.07},{"k":"SP","d":8,"v":3.26},{"k":"SP","d":11,"v":2.56},{"k":"SP","d":13,"v":2.33},{"k":"SP","d":15,"v":2.18},{"k":"SP","d":18,"v":1.82},{"k":"SP","d":22,"v":1.68},{"k":"SP","d":25,"v":1.19},{"k":"SP","d":32,"v":0.87},{"k":"SP","d":39,"v":0.85},{"k":"SP","d":48,"v":0.88,"e":0.05},{"k":"SP","d":53,"v":0.67},{"k":"SP","d":60,"v":0.77},{"k":"SP","d":67,"v":0.8,"e":0.09},{"k":"SP","d":83,"v":0.48},{"k":"SP","d":90,"v":0.6},{"k":"SP","d":97,"v":0.53},{"k":"SP","d":104,"v":0.48},{"k":"SP","d":111,"v":0.51},{"k":"SP","d":117,"v":0.55},{"k":"SP","d":126,"v":0.45},{"k":"SP","d":140,"v":0.62},{"k":"SP","d":147,"v":0.57},{"k":"SP","d":155,"v":0.53},{"k":"SP","d":162,"v":0.6},{"k":"SP","d":169,"v":0.8,"e":0.1},{"k":"SP","d":176,"v":0.72,"e":0.1},{"k":"SP","d":182,"v":0.64},{"k":"SP","d":188,"v":0.59},{"k":"SP","d":195,"v":0.59},{"k":"SP","d":202,"v":0.59},{"k":"SP","d":209,"v":0.46},{"k":"SP","d":215,"v":0.5},{"k":"SP","d":223,"v":0.37},{"k":"SP","d":230,"v":0.34},{"k":"SP","d":237,"v":0.41},{"k":"SP","d":244,"v":0.38},{"k":"SP","d":251,"v":0.36},{"k":"SP","d":258,"v":0.325},{"k":"SP","d":265,"v":0.34},{"k":"SP","d":272,"v":0.32},{"k":"SP","d":279,"v":0.255},{"k":"SP","d":286,"v":0.235},{"k":"SP","d":293,"v":0.235},{"k":"SP","d":307,"v":0.26},{"k":"SP","d":314,"v":0.31},{"k":"SP","d":321,"v":0.26},{"k":"SP","d":328,"v":0.21},{"k":"SP","d":344,"v":0.235},{"k":"SP","d":351,"v":0.3},{"k":"SP","d":358,"v":0.3},{"k":"SP","d":365,"v":0.29},{"k":"SP","d":372,"v":0.22},{"k":"SP","d":379,"v":0.27},{"k":"SP","d":386,"v":0.27},{"k":"SP","d":393,"v":0.3},{"k":"SP","d":400,"v":0.3},{"k":"SP","d":407,"v":0.38},{"k":"SP","d":427,"v":0.34},{"k":"SP","d":434,"v":0.235},{"k":"SP","d":441,"v":0.235},{"k":"SP","d":448,"v":0.26},{"k":"SP","d":455,"v":0.27},{"k":"SP","d":462,"v":0.15},{"k":"SP","d":469,"v":0.32},{"k":"SP","d":476,"v":0.3},{"k":"SP","d":483,"v":0.26},{"k":"SP","d":494,"v":0.2},{"k":"SP","d":502,"v":0.29},{"k":"SP","d":509,"v":0.26},{"k":"SP","d":523,"v":0.2},{"k":"SP","d":530,"v":0.35},{"k":"SP","d":544,"v":0.15},{"k":"SP","d":551,"v":0.29},{"k":"SP","d":567,"v":0.38},
{"k":"BP","d":0,"v":0.5},{"k":"BP","d":3,"v":0.75},{"k":"BP","d":6,"v":1.74,"e":0.1},{"k":"BP","d":10,"v":1.29},{"k":"BP","d":13,"v":1.115},{"k":"BP","d":18,"v":0.88},{"k":"BP","d":25,"v":0.54},{"k":"BP","d":32,"v":0.45},{"k":"BP","d":39,"v":0.47},{"k":"BP","d":48,"v":0.51},{"k":"BP","d":53,"v":0.46},{"k":"BP","d":60,"v":0.42},{"k":"BP","d":67,"v":0.41},{"k":"BP","d":83,"v":0.31},{"k":"BP","d":90,"v":0.385},{"k":"BP","d":97,"v":0.29},{"k":"BP","d":104,"v":0.32},{"k":"BP","d":111,"v":0.29},{"k":"BP","d":117,"v":0.36},{"k":"BP","d":126,"v":0.31},{"k":"BP","d":140,"v":0.28},{"k":"BP","d":147,"v":0.26},{"k":"BP","d":155,"v":0.245},{"k":"BP","d":162,"v":0.245},{"k":"BP","d":169,"v":0.3},{"k":"BP","d":176,"v":0.236},{"k":"BP","d":182,"v":0.21},{"k":"BP","d":188,"v":0.205},{"k":"BP","d":195,"v":0.18},{"k":"BP","d":202,"v":0.19},{"k":"BP","d":209,"v":0.165},{"k":"BP","d":215,"v":0.16},{"k":"BP","d":223,"v":0.13},{"k":"BP","d":230,"v":0.13},{"k":"BP","d":237,"v":0.14},{"k":"BP","d":244,"v":0.14},{"k":"BP","d":251,"v":0.13},{"k":"BP","d":258,"v":0.1},{"k":"BP","d":265,"v":0.11},{"k":"BP","d":272,"v":0.12},{"k":"BP","d":279,"v":0.07},{"k":"BP","d":286,"v":0.065},{"k":"BP","d":293,"v":0.07},{"k":"BP","d":307,"v":0.07},{"k":"BP","d":314,"v":0.07},{"k":"BP","d":321,"v":0.06},{"k":"BP","d":328,"v":0.05},{"k":"BP","d":344,"v":0.07},{"k":"BP","d":351,"v":0.065},{"k":"BP","d":358,"v":0.07},{"k":"BP","d":365,"v":0.07},{"k":"BP","d":372,"v":0.07},{"k":"BP","d":379,"v":0.07},{"k":"BP","d":386,"v":0.07},{"k":"BP","d":393,"v":0.04},{"k":"BP","d":400,"v":0.07},{"k":"BP","d":407,"v":0.15},{"k":"BP","d":427,"v":0.34},{"k":"BP","d":434,"v":0.09},{"k":"BP","d":441,"v":0.07},{"k":"BP","d":448,"v":0.07},{"k":"BP","d":455,"v":0.17},{"k":"BP","d":462,"v":0.04},{"k":"BP","d":469,"v":0.12},{"k":"BP","d":476,"v":0.11},{"k":"BP","d":483,"v":0.09},{"k":"BP","d":494,"v":0.09},{"k":"BP","d":502,"v":0.09},{"k":"BP","d":509,"v":0.09},{"k":"BP","d":523,"v":0.09},{"k":"BP","d":530,"v":0.09},{"k":"BP","d":544,"v":0.09},{"k":"BP","d":551,"v":0.11},{"k":"BP","d":567,"v":0.13},
{"k":"WP","d":0,"v":0.56},{"k":"WP","d":1,"v":0.25},{"k":"WP","d":6,"v":1.22},{"k":"WP","d":8,"v":1.525},{"k":"WP","d":12,"v":1.48},{"k":"WP","d":15,"v":1.29},{"k":"WP","d":18,"v":0.91},{"k":"WP","d":22,"v":0.87},{"k":"WP","d":25,"v":0.63,"e":0.15},{"k":"WP","d":32,"v":0.44},{"k":"WP","d":39,"v":0.36,"e":0.09},{"k":"WP","d":48,"v":0.49},{"k":"WP","d":53,"v":0.46},{"k":"WP","d":60,"v":0.5},{"k":"WP","d":67,"v":0.59},{"k":"WP","d":83,"v":0.36},{"k":"WP","d":90,"v":0.47},{"k":"WP","d":97,"v":0.34},{"k":"WP","d":104,"v":0.45},{"k":"WP","d":111,"v":0.45},{"k":"WP","d":117,"v":0.49},{"k":"WP","d":126,"v":0.42},{"k":"WP","d":140,"v":0.43,"e":0.08},{"k":"WP","d":147,"v":0.42,"e":0.1},{"k":"WP","d":155,"v":0.41,"e":0.1},{"k":"WP","d":162,"v":0.41,"e":0.12},{"k":"WP","d":169,"v":0.49,"e":0.12},{"k":"WP","d":176,"v":0.43,"e":0.1},{"k":"WP","d":182,"v":0.385,"e":0.12},{"k":"WP","d":188,"v":0.385,"e":0.1},{"k":"WP","d":195,"v":0.37,"e":0.1},{"k":"WP","d":202,"v":0.37,"e":0.1},{"k":"WP","d":209,"v":0.36,"e":0.08},{"k":"WP","d":215,"v":0.35,"e":0.08},{"k":"WP","d":223,"v":0.22},{"k":"WP","d":230,"v":0.29},{"k":"WP","d":237,"v":0.29},{"k":"WP","d":244,"v":0.31},{"k":"WP","d":251,"v":0.256},{"k":"WP","d":258,"v":0.24},{"k":"WP","d":265,"v":0.22},{"k":"WP","d":272,"v":0.22},{"k":"WP","d":279,"v":0.17},{"k":"WP","d":286,"v":0.17},{"k":"WP","d":293,"v":0.2},{"k":"WP","d":307,"v":0.2},{"k":"WP","d":314,"v":0.2},{"k":"WP","d":321,"v":0.2},{"k":"WP","d":328,"v":0.146},{"k":"WP","d":344,"v":0.2},{"k":"WP","d":351,"v":0.21},{"k":"WP","d":358,"v":0.21},{"k":"WP","d":365,"v":0.21},{"k":"WP","d":372,"v":0.2},{"k":"WP","d":379,"v":0.2},{"k":"WP","d":386,"v":0.2},{"k":"WP","d":393,"v":0.2},{"k":"WP","d":400,"v":0.146},{"k":"WP","d":407,"v":0.22},{"k":"WP","d":427,"v":0.35},{"k":"WP","d":434,"v":0.21},{"k":"WP","d":441,"v":0.21},{"k":"WP","d":448,"v":0.29},{"k":"WP","d":455,"v":0.48,"e":0.06},{"k":"WP","d":462,"v":0.28},{"k":"WP","d":469,"v":0.37,"e":0.06},{"k":"WP","d":476,"v":0.37,"e":0.07},{"k":"WP","d":483,"v":0.31,"e":0.08},{"k":"WP","d":494,"v":0.29,"e":0.08},{"k":"WP","d":502,"v":0.38,"e":0.08},{"k":"WP","d":509,"v":0.3,"e":0.08},{"k":"WP","d":523,"v":0.29,"e":0.08},{"k":"WP","d":530,"v":0.44,"e":0.1},{"k":"WP","d":544,"v":0.22},{"k":"WP","d":551,"v":0.38,"e":0.08},{"k":"WP","d":566,"v":0.33},{"k":"WP","d":567,"v":0.0}
],
"temp":[
{"d":0,"t":17.5},{"d":1,"t":15.9},{"d":2,"t":17.1},{"d":3,"t":16.4},{"d":4,"t":17.6},{"d":5,"t":16.9},{"d":6,"t":16.1},{"d":7,"t":17.0},{"d":8,"t":16.6},{"d":9,"t":16.9},{"d":10,"t":17.3},{"d":11,"t":16.8},{"d":12,"t":17.5},{"d":13,"t":17.2},{"d":14,"t":17.1},{"d":15,"t":17.6},{"d":16,"t":17.9},{"d":17,"t":18.3},{"d":18,"t":18.1},{"d":19,"t":18.6},{"d":20,"t":18.3},{"d":21,"t":18.7},{"d":22,"t":18.5},{"d":23,"t":18.9},{"d":24,"t":18.4},{"d":25,"t":18.2},{"d":26,"t":18.5},{"d":27,"t":18.3},{"d":28,"t":18.0},{"d":29,"t":18.4},{"d":30,"t":18.3},{"d":31,"t":17.9},{"d":32,"t":18.3},{"d":33,"t":18.0},{"d":34,"t":17.8},{"d":35,"t":17.7},{"d":36,"t":17.5},{"d":37,"t":17.9},{"d":38,"t":17.7},{"d":39,"t":18.8},{"d":40,"t":19.2},{"d":41,"t":19.5},{"d":42,"t":19.6},{"d":43,"t":19.9},{"d":44,"t":19.3},{"d":45,"t":19.7},{"d":46,"t":19.8},{"d":47,"t":19.5},{"d":48,"t":19.3},{"d":49,"t":18.6},{"d":50,"t":18.0},{"d":51,"t":18.3},{"d":52,"t":18.5},{"d":53,"t":18.8},{"d":54,"t":19.0},{"d":55,"t":19.2},{"d":56,"t":19.1},{"d":57,"t":19.4},{"d":58,"t":19.3},{"d":59,"t":19.6},{"d":60,"t":19.5},{"d":61,"t":19.8},{"d":62,"t":20.1},{"d":63,"t":20.3},{"d":64,"t":20.2},{"d":65,"t":19.9},{"d":66,"t":20.0},{"d":67,"t":19.8},{"d":68,"t":19.5},{"d":69,"t":19.4},{"d":70,"t":19.6},{"d":71,"t":19.9},{"d":72,"t":19.8},{"d":73,"t":19.7},{"d":74,"t":19.2},{"d":75,"t":18.8},{"d":76,"t":18.6},{"d":77,"t":18.25},{"d":78,"t":16.4},{"d":79,"t":16.1},{"d":80,"t":17.1},{"d":81,"t":18.5},{"d":82,"t":19.0},{"d":83,"t":19.2},{"d":84,"t":19.4},{"d":85,"t":19.1},{"d":86,"t":19.5},{"d":87,"t":19.7},{"d":88,"t":19.8},{"d":89,"t":19.6},{"d":90,"t":20.0},{"d":91,"t":20.1},{"d":92,"t":19.9},{"d":93,"t":20.2},{"d":94,"t":20.3},{"d":95,"t":20.1},{"d":96,"t":20.0},{"d":97,"t":20.2},{"d":98,"t":20.2},{"d":99,"t":20.0},{"d":100,"t":20.3},{"d":101,"t":20.1},{"d":102,"t":20.3},{"d":103,"t":20.3},{"d":104,"t":20.2},{"d":105,"t":20.4},{"d":106,"t":20.1},{"d":107,"t":20.3},{"d":108,"t":20.4},{"d":109,"t":20.2},{"d":110,"t":20.5},{"d":111,"t":20.6},{"d":112,"t":20.5},{"d":113,"t":20.8},{"d":114,"t":21.0},{"d":115,"t":21.2},{"d":116,"t":21.1},{"d":117,"t":21.5},{"d":118,"t":21.9},{"d":119,"t":22.1},{"d":120,"t":21.7},
{"d":121,"t":21.4},{"d":122,"t":21.3},{"d":123,"t":21.5},{"d":124,"t":21.2},{"d":125,"t":21.6},{"d":126,"t":21.4},{"d":127,"t":21.3},{"d":128,"t":21.6},{"d":129,"t":21.1},{"d":130,"t":21.5},{"d":131,"t":21.3},{"d":132,"t":21.7},{"d":133,"t":21.2},{"d":134,"t":21.5},{"d":135,"t":21.4},{"d":136,"t":21.3},{"d":137,"t":21.6},{"d":138,"t":21.2},{"d":139,"t":21.8},{"d":140,"t":22.0},{"d":141,"t":22.9},{"d":142,"t":21.6},{"d":143,"t":21.4},{"d":144,"t":21.7},{"d":145,"t":21.2},{"d":146,"t":21.5},{"d":147,"t":21.9},{"d":148,"t":21.3},{"d":149,"t":21.6},{"d":150,"t":21.1},{"d":151,"t":21.4},{"d":152,"t":21.7},{"d":153,"t":21.3},{"d":154,"t":21.5},{"d":155,"t":21.8},{"d":156,"t":21.2},{"d":157,"t":21.6},{"d":158,"t":21.4},{"d":159,"t":21.7},{"d":160,"t":21.9},{"d":161,"t":21.5},{"d":162,"t":22.0},{"d":163,"t":21.8},{"d":164,"t":22.2},{"d":165,"t":22.3},{"d":166,"t":22.0},{"d":167,"t":22.4},{"d":168,"t":22.6},{"d":169,"t":23.4},{"d":170,"t":22.5},{"d":171,"t":22.3},{"d":172,"t":22.5},{"d":173,"t":22.0},{"d":174,"t":22.2},{"d":175,"t":21.8},{"d":176,"t":22.1},{"d":177,"t":21.9},{"d":178,"t":21.6},{"d":179,"t":22.0},{"d":180,"t":21.7},{"d":181,"t":21.5},{"d":182,"t":21.8},{"d":183,"t":21.4},{"d":184,"t":21.2},{"d":185,"t":21.5},{"d":186,"t":21.0},{"d":187,"t":21.3},{"d":188,"t":20.9},{"d":189,"t":21.1},{"d":190,"t":20.8},{"d":191,"t":21.0},{"d":192,"t":20.7},{"d":193,"t":21.2},{"d":194,"t":20.9},{"d":195,"t":20.6},{"d":196,"t":20.8},{"d":197,"t":22.6},{"d":198,"t":20.5},{"d":199,"t":20.7},{"d":200,"t":20.3},{"d":201,"t":20.6},{"d":202,"t":20.2},{"d":203,"t":20.4},{"d":204,"t":20.0},{"d":205,"t":18.8},{"d":206,"t":20.3},{"d":207,"t":20.1},{"d":208,"t":19.9},{"d":209,"t":20.2},{"d":210,"t":19.8},{"d":211,"t":20.1},{"d":212,"t":19.9},{"d":213,"t":20.3},{"d":214,"t":19.7},{"d":215,"t":19.9},{"d":216,"t":19.5},{"d":217,"t":19.8},{"d":218,"t":19.4},{"d":219,"t":19.6},{"d":220,"t":19.2},{"d":221,"t":19.5},{"d":222,"t":19.0},{"d":223,"t":17.5},{"d":224,"t":18.8},{"d":225,"t":17.1},{"d":226,"t":18.6},{"d":227,"t":18.4},{"d":228,"t":18.7},{"d":229,"t":18.2},{"d":230,"t":17.1},{"d":231,"t":18.5},{"d":232,"t":16.5},{"d":233,"t":18.2},{"d":234,"t":18.3},{"d":235,"t":17.4},{"d":236,"t":16.2},{"d":237,"t":18.0},{"d":238,"t":17.6},{"d":239,"t":18.0},{"d":240,"t":15.4},{"d":241,"t":17.7},{"d":242,"t":15.6},{"d":243,"t":17.9},{"d":244,"t":17.9},{"d":245,"t":16.3},{"d":246,"t":18.2},{"d":247,"t":17.8},{"d":248,"t":18.4},{"d":249,"t":18.1},{"d":250,"t":18.7},{"d":251,"t":18.3},{"d":252,"t":18.6},{"d":253,"t":18.4},{"d":254,"t":18.0},{"d":255,"t":18.5},
{"d":256,"t":18.65},{"d":257,"t":18.3},{"d":258,"t":18.26},{"d":259,"t":16.8},{"d":260,"t":17.6},{"d":261,"t":18.0},{"d":262,"t":17.7},{"d":263,"t":18.1},{"d":264,"t":17.9},{"d":265,"t":17.8},{"d":266,"t":18.2},{"d":267,"t":17.6},{"d":268,"t":18.0},{"d":269,"t":17.97},{"d":270,"t":17.8},{"d":271,"t":18.1},{"d":272,"t":17.7},{"d":273,"t":17.6},{"d":274,"t":17.9},{"d":275,"t":17.4},{"d":276,"t":17.7},{"d":277,"t":17.8},{"d":278,"t":17.3},{"d":279,"t":17.5},{"d":280,"t":16.8},{"d":281,"t":16.47},{"d":282,"t":17.2},{"d":283,"t":17.0},{"d":284,"t":17.4},{"d":285,"t":16.9},{"d":286,"t":16.5},{"d":287,"t":16.1},{"d":288,"t":16.8},{"d":289,"t":17.3},{"d":290,"t":17.1},{"d":291,"t":17.5},{"d":292,"t":17.3},{"d":293,"t":17.6},{"d":294,"t":17.5},{"d":295,"t":17.7},{"d":296,"t":17.4},{"d":297,"t":17.8},{"d":298,"t":17.5},{"d":299,"t":17.7},{"d":300,"t":17.6},{"d":301,"t":17.9},{"d":302,"t":17.5},{"d":303,"t":17.7},{"d":304,"t":17.8},{"d":305,"t":17.6},{"d":306,"t":17.9},{"d":307,"t":17.8},{"d":308,"t":17.6},{"d":309,"t":17.9},{"d":310,"t":17.7},{"d":311,"t":18.0},{"d":312,"t":17.8},{"d":313,"t":17.9},{"d":314,"t":17.7},{"d":315,"t":18.1},{"d":316,"t":17.9},{"d":317,"t":18.4},{"d":318,"t":17.9},{"d":319,"t":17.6},{"d":320,"t":17.7},{"d":321,"t":17.4},{"d":322,"t":17.2},{"d":323,"t":16.6},{"d":324,"t":16.0},{"d":325,"t":15.5},{"d":326,"t":15.8},{"d":327,"t":15.25},{"d":328,"t":15.0},{"d":329,"t":14.9},{"d":330,"t":16.5},{"d":331,"t":17.0},{"d":332,"t":17.1},{"d":333,"t":17.6},{"d":334,"t":17.9},{"d":335,"t":18.07},{"d":336,"t":18.0},{"d":337,"t":18.2},{"d":338,"t":17.9},{"d":339,"t":18.17},{"d":340,"t":18.0},{"d":341,"t":18.2},{"d":342,"t":17.9},{"d":344,"t":17.97},{"d":345,"t":18.1},{"d":346,"t":17.8},{"d":347,"t":18.2},{"d":348,"t":18.17},{"d":349,"t":17.9},{"d":350,"t":17.7},{"d":351,"t":17.8},{"d":352,"t":17.6},{"d":353,"t":17.4},{"d":354,"t":17.6},{"d":355,"t":17.3},{"d":356,"t":17.5},{"d":357,"t":17.2},{"d":358,"t":17.0},{"d":359,"t":17.3},{"d":360,"t":16.8},{"d":361,"t":17.4},{"d":362,"t":17.9},{"d":363,"t":18.5},{"d":364,"t":18.75},{"d":365,"t":18.4},{"d":366,"t":17.9},{"d":367,"t":17.8},{"d":368,"t":17.6},{"d":369,"t":17.8},{"d":370,"t":17.4},{"d":371,"t":17.2},{"d":372,"t":17.1},{"d":373,"t":17.3},{"d":374,"t":17.0},{"d":375,"t":17.2},{"d":376,"t":16.9},{"d":377,"t":17.1},{"d":378,"t":16.7},{"d":379,"t":16.9},{"d":380,"t":16.3},{"d":381,"t":17.4},{"d":382,"t":17.9},{"d":383,"t":17.6},{"d":384,"t":17.9},{"d":385,"t":17.5},{"d":386,"t":17.8},{"d":387,"t":17.7},{"d":388,"t":18.0},{"d":389,"t":17.6},{"d":390,"t":17.9},{"d":391,"t":17.7},{"d":392,"t":18.0},{"d":393,"t":17.8},{"d":394,"t":17.6},{"d":395,"t":17.9},{"d":396,"t":17.7},{"d":397,"t":17.4},{"d":398,"t":17.5},{"d":399,"t":17.8},{"d":400,"t":17.3},{"d":401,"t":17.1},{"d":402,"t":17.06},{"d":403,"t":17.5},{"d":404,"t":17.8},{"d":405,"t":18.0},{"d":406,"t":18.07},{"d":407,"t":18.2},{"d":408,"t":17.9},{"d":409,"t":18.3},{"d":410,"t":18.1},{"d":411,"t":18.26},{"d":412,"t":18.4},{"d":413,"t":18.2},{"d":414,"t":18.6},{"d":415,"t":18.5},{"d":416,"t":18.8},{"d":417,"t":18.6},{"d":418,"t":18.3},{"d":419,"t":18.0},{"d":420,"t":17.8},{"d":421,"t":17.6},{"d":422,"t":17.6},{"d":423,"t":17.3},{"d":424,"t":17.1},{"d":425,"t":17.06},{"d":426,"t":17.4},{"d":427,"t":17.8},{"d":428,"t":17.6},{"d":429,"t":18.0},{"d":430,"t":18.26},{"d":431,"t":18.5},{"d":432,"t":18.3},{"d":433,"t":18.7},{"d":434,"t":18.6},{"d":435,"t":18.75},{"d":436,"t":18.3},{"d":437,"t":17.8},{"d":438,"t":19.5},{"d":439,"t":19.8},{"d":440,"t":19.6},{"d":441,"t":20.1},{"d":442,"t":20.0},{"d":443,"t":19.8},{"d":444,"t":19.9},{"d":445,"t":20.4},{"d":446,"t":20.7},{"d":447,"t":20.9},{"d":448,"t":20.8},{"d":449,"t":21.0},{"d":450,"t":21.1},{"d":451,"t":21.3},{"d":452,"t":21.2},{"d":453,"t":21.5},{"d":454,"t":21.4},{"d":455,"t":21.56},{"d":456,"t":21.7},{"d":457,"t":21.4},{"d":458,"t":21.6},{"d":459,"t":21.5},{"d":460,"t":21.3},{"d":461,"t":21.2},{"d":462,"t":21.0},{"d":463,"t":20.8},{"d":464,"t":20.9},{"d":465,"t":20.6},{"d":466,"t":20.7},{"d":467,"t":20.4},{"d":468,"t":20.3},{"d":469,"t":20.1},{"d":470,"t":20.0},{"d":471,"t":20.3},{"d":472,"t":20.5},{"d":473,"t":20.4},{"d":474,"t":20.7},{"d":475,"t":20.6},{"d":476,"t":20.5},{"d":477,"t":20.3},{"d":478,"t":20.6},{"d":479,"t":20.4},{"d":480,"t":20.8},{"d":481,"t":20.6},{"d":482,"t":21.0},{"d":483,"t":20.7},{"d":484,"t":20.4},{"d":485,"t":20.2},{"d":486,"t":20.1},{"d":487,"t":20.3},{"d":488,"t":20.5},{"d":489,"t":20.7},{"d":490,"t":20.4},{"d":491,"t":20.6},{"d":492,"t":20.3},{"d":493,"t":20.5},{"d":494,"t":20.75},{"d":495,"t":20.5},{"d":496,"t":20.3},{"d":497,"t":20.6},{"d":498,"t":20.4},{"d":499,"t":20.2},{"d":500,"t":20.0},{"d":501,"t":20.2},{"d":502,"t":19.9},{"d":503,"t":19.8},{"d":504,"t":20.1},{"d":505,"t":20.3},{"d":506,"t":20.0},{"d":507,"t":19.9},{"d":508,"t":19.8},{"d":509,"t":19.7},{"d":510,"t":20.2},{"d":511,"t":20.6},{"d":512,"t":21.2},{"d":513,"t":21.0},{"d":514,"t":20.7},{"d":515,"t":20.5},{"d":516,"t":20.3},{"d":517,"t":20.6},{"d":518,"t":20.8},{"d":519,"t":21.0},{"d":520,"t":21.2},{"d":521,"t":21.0},{"d":522,"t":20.9},{"d":523,"t":20.85},{"d":524,"t":20.6},{"d":525,"t":20.3},{"d":526,"t":20.1},{"d":527,"t":20.4},{"d":528,"t":20.6},{"d":529,"t":20.5},{"d":530,"t":20.7},{"d":531,"t":20.9},{"d":532,"t":20.8},{"d":533,"t":20.6},{"d":534,"t":20.8},{"d":535,"t":21.0},{"d":536,"t":20.9},{"d":537,"t":20.7},{"d":538,"t":20.97},{"d":539,"t":20.8},{"d":540,"t":20.6},{"d":541,"t":20.8},{"d":542,"t":20.7},{"d":543,"t":20.5},{"d":544,"t":20.6},{"d":545,"t":20.5},{"d":546,"t":20.7},{"d":547,"t":20.9},{"d":548,"t":20.8},{"d":549,"t":21.0},{"d":550,"t":20.97},{"d":551,"t":20.8},{"d":552,"t":20.6},{"d":553,"t":20.5},{"d":554,"t":20.4},{"d":555,"t":20.3},{"d":556,"t":20.5},{"d":557,"t":20.2},{"d":558,"t":20.0},{"d":559,"t":20.1},{"d":560,"t":20.4},{"d":561,"t":20.7},{"d":562,"t":21.0},{"d":563,"t":21.3},{"d":564,"t":21.4},{"d":565,"t":21.5},{"d":566,"t":21.6},{"d":567,"t":21.3},{"d":567.5,"t":20.4},{"d":568,"t":19.8}
]
},
"encoding":{"x":{"field":"d","type":"quantitative","scale":{"domain":[0,568],"nice":false,"zero":false},
 "axis":{"values":[0,50,100,150,200,250,300,350,400,450,500,550],"labelFlush":false,"labelFontSize":39,"labelPadding":43,"ticks":false,"domainColor":"#D9D9D9","domainWidth":2,"grid":false,"title":"Days","titleFontSize":56,"titleX":620,"titleY":161,"titleBaseline":"alphabetic","titleAlign":"center"}}},
"layer":[
 {"data":{"name":"flux"},
  "transform":[{"lookup":"k","from":{"data":{"name":"names"},"key":"k","fields":["name"]}}],
  "encoding":{"y":{"field":"v","type":"quantitative","scale":{"domain":[0,5],"nice":false},
   "axis":{"orient":"left","values":[0,0.5,1,1.5,2,2.5,3,3.5,4,4.5,5],"labelFlush":false,"labelExpr":"replace(format(datum.value,'.2f'),'.',',')","labelFontSize":39,"labelPadding":38,"ticks":false,"domainColor":"#BFBFBF","domainWidth":2,"grid":false,"title":["CO₂ - flux","(µg CO₂-C/g jord time)"],"titleFontSize":44,"titleLineHeight":57,"titleAngle":-90,"titleX":-272,"titleY":363,"titleAlign":"center","titleBaseline":"alphabetic"}}},
  "layer":[
   {"transform":[{"filter":"isValid(datum.e)"}],"mark":{"type":"errorbar","ticks":{"size":13,"color":"#BFBFBF"},"color":"#BFBFBF","thickness":2},"encoding":{"yError":{"field":"e"}}},
   {"mark":{"type":"line","strokeWidth":4,"strokeJoin":"round","point":{"filled":true,"size":165,"opacity":1}},
    "encoding":{"color":{"field":"name","type":"nominal","sort":null,
     "scale":{"domain":["L","L, SP500, 1,5%","L, SP500, 3%","L, SP600, 1,5%","L, SP600, 3%","L, BP600, 1,5.%","L, BP600, 3%","L, WCR600, \u00a03%","L, WPR600, \u00a03%","L, SPR600, \u00a03%","L, SF, \u00a03%","L, SP, \u00a03%","L, BP, \u00a03%","L, WP, 3%"],
      "range":["#2E91D5","#F2DA2C","#FFC000","#5B9BD5","#70AD47","#1C5A80","#326B1E","#A08B00","#9C7000","#255E91","#43682B","#4EA9E0","#72CC50","#F4E04D"]},
     "legend":{"orient":"none","legendX":1520.5,"legendY":-41.5,"title":null,"padding":0,"rowPadding":18,"labelOffset":27.5,"labelLimit":600,"labelFontSize":33,"labelFont":"Lato","labelColor":"#595959","symbolSize":400,"symbolStrokeWidth":3.4,"symbolOpacity":1,
      "symbolType":"M-3.9,0H3.9M0.12,0A0.12,0.12,0,1,1,-0.12,0A0.12,0.12,0,1,1,0.12,0ZM0.32,0A0.32,0.32,0,1,1,-0.32,0A0.32,0.32,0,1,1,0.32,0ZM0.52,0A0.52,0.52,0,1,1,-0.52,0A0.52,0.52,0,1,1,0.52,0Z"}}}}
  ]},
 {"data":{"name":"temp"},
  "mark":{"type":"circle","size":175,"opacity":1},
  "encoding":{"y":{"field":"t","type":"quantitative","scale":{"domain":[13,32],"nice":false,"zero":false},
   "axis":{"orient":"right","values":[13,15,17,19,21,23,25,27,29,31],"labelFlush":false,"labelExpr":"datum.value + ' °C'","labelFontSize":39,"labelPadding":30,"labelAlign":"left","ticks":true,"tickSize":13,"tickColor":"#BFBFBF","tickWidth":2,"domainColor":"#BFBFBF","domainWidth":2,"grid":false,"title":"Temp.","titleAngle":0,"titleFontSize":42,"titleColor":"#7F7F7F","titleX":30,"titleY":-29,"titleAlign":"left","titleBaseline":"alphabetic"}},
   "color":{"datum":"Avg. temp","type":"nominal","scale":{"domain":["Avg. temp"],"range":["#D9D9D9"]},
    "legend":{"orient":"none","legendX":1518.5,"legendY":683,"title":null,"padding":0,"labelOffset":25.5,"labelLimit":600,"labelFontSize":37,"labelFont":"Lato","labelColor":"#595959","symbolSize":400,"symbolStrokeWidth":3.4,"symbolOpacity":1,
     "symbolType":"M0.15,0A0.15,0.15,0,1,1,-0.15,0A0.15,0.15,0,1,1,0.15,0ZM0.35,0A0.35,0.35,0,1,1,-0.35,0A0.35,0.35,0,1,1,0.35,0ZM0.55,0A0.55,0.55,0,1,1,-0.55,0A0.55,0.55,0,1,1,0.55,0Z"}}}},
 {"data":{"name":"temp"},
  "transform":[{"regression":"t","on":"d","method":"poly","order":6}],
  "mark":{"type":"line","strokeWidth":5,"strokeCap":"round","strokeDash":[0.1,12]},
  "encoding":{"y":{"field":"t","type":"quantitative","scale":{"domain":[13,32],"nice":false,"zero":false},"axis":null},
   "color":{"datum":"Poly. (Avg. temp)","type":"nominal","scale":{"domain":["Poly. (Avg. temp)"],"range":["#BFBFBF"]},
    "legend":{"orient":"none","legendX":1518.5,"legendY":730,"title":null,"padding":0,"labelOffset":25.5,"labelLimit":600,"labelFontSize":37,"labelFont":"Lato","labelColor":"#595959","symbolSize":400,"symbolStrokeWidth":3.4,"symbolOpacity":1,
     "symbolType":"M-3.32,0A0.08,0.08,0,1,1,-3.48,0A0.08,0.08,0,1,1,-3.32,0ZM-1.82,0A0.08,0.08,0,1,1,-1.98,0A0.08,0.08,0,1,1,-1.82,0ZM-0.32,0A0.08,0.08,0,1,1,-0.48,0A0.08,0.08,0,1,1,-0.32,0ZM1.18,0A0.08,0.08,0,1,1,1.02,0A0.08,0.08,0,1,1,1.18,0ZM2.68,0A0.08,0.08,0,1,1,2.52,0A0.08,0.08,0,1,1,2.68,0Z"}}}}
],
"resolve":{"scale":{"y":"independent","color":"independent"}},
"config":{"view":{"stroke":null},"font":"Liberation Sans",
 "axis":{"labelFont":"Liberation Sans","titleFont":"Liberation Sans","labelColor":"#595959","titleColor":"#595959","titleFontWeight":"normal"},
 "legend":{"labelFont":"Liberation Sans"}}
}
